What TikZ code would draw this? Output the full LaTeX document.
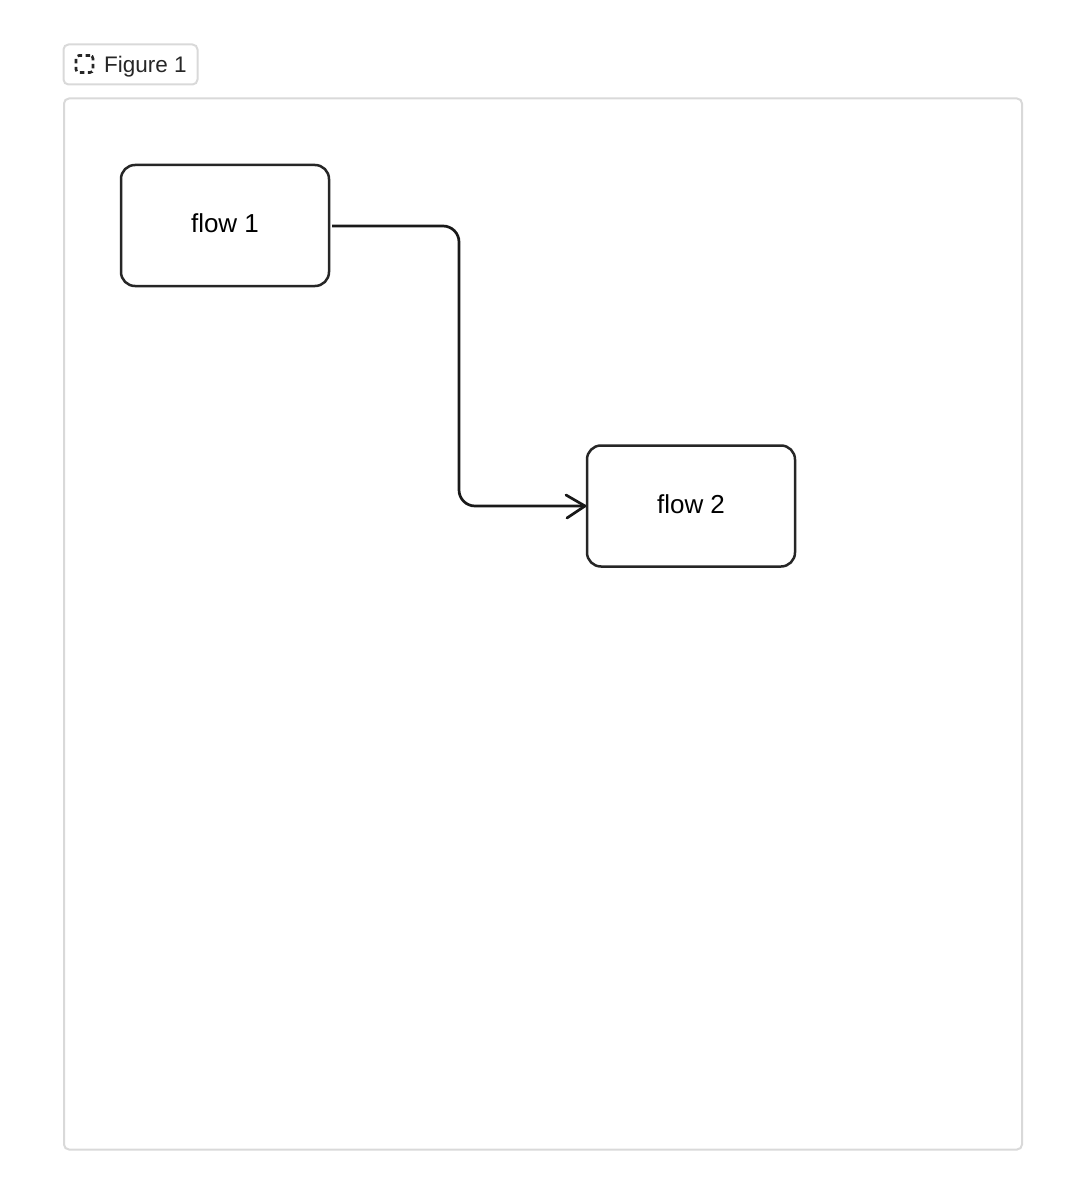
\documentclass[tikz,border=0pt]{standalone}
\usepackage{fontspec}
\setmainfont{Liberation Sans}
\usepackage{tikz}
\begin{document}
\begin{tikzpicture}
    [
    x=1pt,y=-1pt,
    vertex/.style={draw=black!85,line width=2.5pt,rounded corners=14pt,minimum width=208pt,minimum height=121pt,font=\fontsize{26}{30}\selectfont,inner sep=0pt},
    edge/.style={draw=black!90,line width=2.7pt,rounded corners=16pt},
    frame/.style={draw=black!15,line width=2pt,rounded corners=5pt,anchor=north west,inner sep=0pt}
    ]
\useasboundingbox (0,0) rectangle (1070,1182);
\node[frame,minimum width=134pt,minimum height=40pt] (tag) at (62.5,43.5) {};
\node[frame,minimum width=958pt,minimum height=1051pt] (panel) at (63,97.5) {};
\node[draw=black!85,line width=2.6pt,dash pattern=on 4.5pt off 3.5pt,rounded corners=3pt,minimum size=17pt,inner sep=0pt] (icon) at (84.5,64) {};
\node[anchor=west,inner sep=0pt,font=\fontsize{22.5}{26}\selectfont,text=black!85] (title) at (104,66.5) {Figure 1};
\node[vertex] (1) at (225,225.5) {\raisebox{5pt}{flow 1}};
\node[vertex] (2) at (691,506) {\raisebox{4pt}{flow 2}};
\coordinate (s1) at (332,226);
\coordinate (c1) at (459,226);
\coordinate (c2) at (459,506);
\coordinate (t2) at (585,506);
\draw[edge] (s1) -- (c1) -- (c2) -- (t2);
\coordinate (h1) at (566,495);
\coordinate (h2) at (567,518);
\draw[draw=black!90,line width=2.7pt,line cap=round,line join=round] (h1) -- (t2) -- (h2);
\end{tikzpicture}
\end{document}
